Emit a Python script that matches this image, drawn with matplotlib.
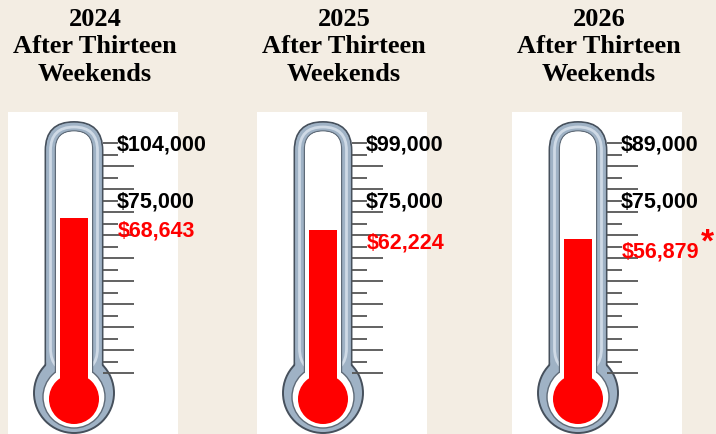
import matplotlib
matplotlib.use('Agg')
import matplotlib.pyplot as plt
from matplotlib.patches import Rectangle, Circle, FancyBboxPatch
from matplotlib.transforms import Affine2D, blended_transform_factory

# data
years = ['2024', '2025', '2026']
subtitle = 'After Thirteen\nWeekends'
raised = [68643, 62224, 56879]
goals = [104000, 99000, 89000]
milestone = 75000
marks = ['', '', '*']

# layout (pixels)
W, H = 716, 435
centers = [74, 323, 578]
Y0, DPP = 342, 560          # pixel row of $0 and dollars per pixel
BULB_Y = 400

BG = '#F3EDE3'
RED = '#FF0000'
TUBE = '#9FB2C5'
EDGE = '#46505C'

fig = plt.figure(figsize=(W / 100, H / 100), dpi=100, facecolor=BG)
ax = fig.add_axes([0, 0, 1, 1])
ax.set_facecolor(BG)
ax.set_xlim(0, W)
ax.set_ylim((Y0 - H) * DPP, Y0 * DPP)
ax.axis('off')

# x in data (= pixels), y in pixels from the top
top_px = Affine2D().scale(1 / W, -1 / H).translate(0, 1) + fig.transFigure
tr = blended_transform_factory(ax.transData, top_px)


def rounded(x0, y0, w, h, r, **kw):
    return FancyBboxPatch((x0, y0), w, h, boxstyle=f'round,pad=0,rounding_size={r}',
                          transform=tr, **kw)


base = (Y0 - BULB_Y) * DPP

for i, cx in enumerate(centers):
    # white card
    ax.add_patch(Rectangle((cx - 66, 113), 170, H - 113, transform=tr,
                           fc='white', ec='none', zorder=0))

    # glass body: tube + bulb
    ax.add_patch(rounded(cx - 28.5, 123, 57, 290, 28.5, fc=TUBE, ec=EDGE, lw=1.4, zorder=1))
    ax.add_patch(Circle((cx, 394), 40, transform=tr, fc=TUBE, ec=EDGE, lw=1.4, zorder=1))
    ax.add_patch(rounded(cx - 27.8, 123.7, 55.6, 289, 27.8, fc=TUBE, ec='none', zorder=1))
    # light highlight on the glass
    ax.add_patch(rounded(cx - 23.5, 128, 47, 245, 23.5, fc='none', ec='#CFDAE6', lw=2.0, zorder=1))

    # inner channel
    ax.add_patch(rounded(cx - 18.5, 132, 37, 270, 18.5, fc='white', ec='#5E6A77', lw=1.0, zorder=2))
    ax.add_patch(Circle((cx, 398), 31, transform=tr, fc='white', ec='#5E6A77', lw=1.0, zorder=2))
    ax.add_patch(rounded(cx - 18, 132.5, 36, 269, 18, fc='white', ec='none', zorder=2))

    # red bulb
    ax.add_patch(Circle((cx, BULB_Y), 25, transform=tr, fc=RED, ec='none', zorder=3))

    # scale ticks
    for j in range(21):
        py = 144 + j * 11.5
        length = 31 if (j % 2 == 0 and j > 0) else 15
        ax.plot([cx + 28.5, cx + 28.5 + length], [py, py], transform=tr,
                color='#555555', lw=1.3, solid_capstyle='butt', zorder=1)

    # title
    ax.text(cx + 21, 8, years[i] + '\n' + subtitle, transform=tr, ha='center', va='top',
            family='Liberation Serif', weight='bold', fontsize=19, linespacing=1.24,
            color='black')
    # goal labels
    ax.text(cx + 43, 145, f'${goals[i]:,}', transform=tr, ha='left', va='center',
            family='Liberation Sans', weight='bold', fontsize=15.5, color='black', zorder=5)
    ax.text(cx + 43, 202, f'${milestone:,}', transform=tr, ha='left', va='center',
            family='Liberation Sans', weight='bold', fontsize=15.5, color='black', zorder=5)

# mercury column
ax.bar(centers, [v - base for v in raised], bottom=base, width=27.5, color=RED, zorder=4)

# raised labels
for cx, v, m in zip(centers, raised, marks):
    t = ax.annotate(f'${v:,}', xy=(cx + 44, v), xytext=(0, -12), textcoords='offset pixels',
                    ha='left', va='center', family='Liberation Sans', weight='bold',
                    fontsize=15.5, color=RED, zorder=5)
    if m:
        ax.annotate(m, xy=(1, 1), xycoords=t, xytext=(1, -1), textcoords='offset pixels',
                    ha='left', va='center', family='Liberation Sans', weight='bold',
                    fontsize=24, color=RED, zorder=5)

fig.savefig('out.png', dpi=100, facecolor=BG)
